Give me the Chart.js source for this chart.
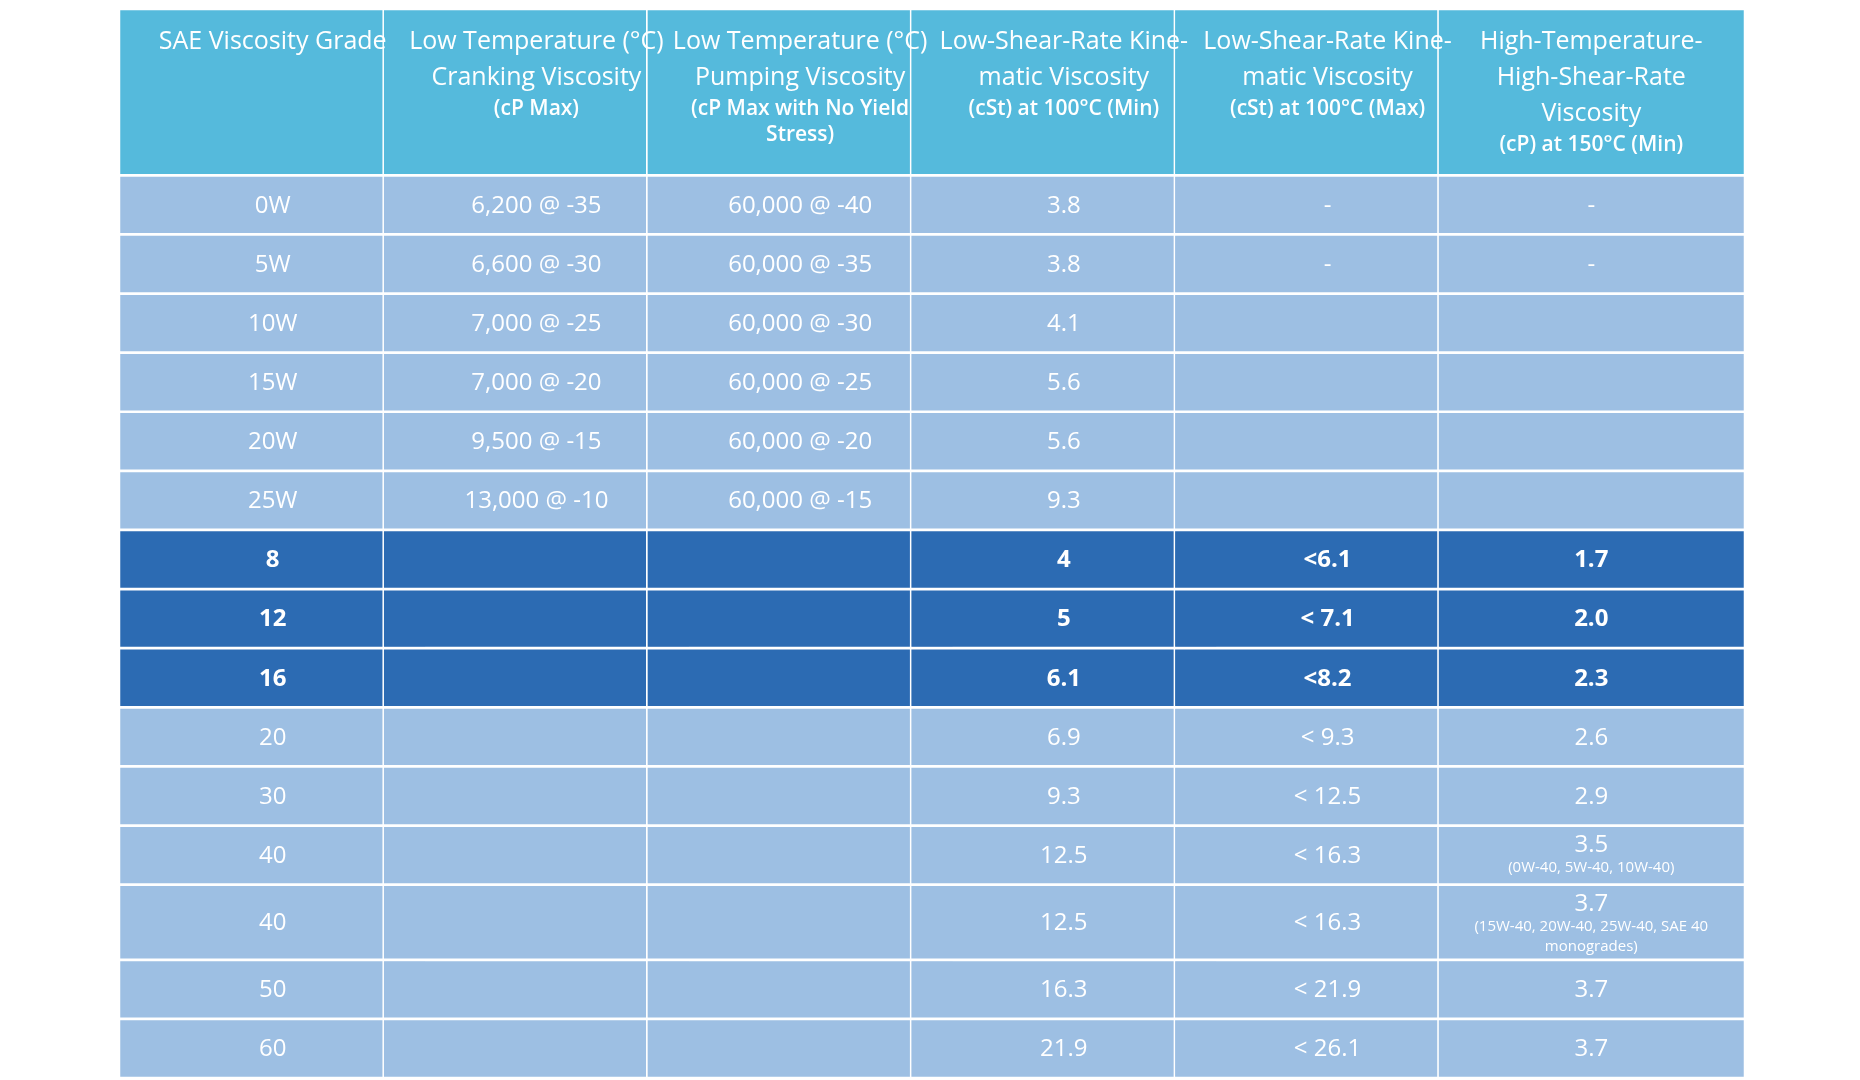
<!DOCTYPE html>
<html>
<head>
<meta charset="utf-8">
<script src="https://cdn.jsdelivr.net/npm/chart.js@4.4.0/dist/chart.umd.min.js"></script>
<style>
  html, body { margin: 0; padding: 0; background: #ffffff; }
  #wrap { width: 1860px; height: 1080px; }
</style>
</head>
<body>
<div id="wrap"><canvas id="table"></canvas></div>
<script>
// table contents
let grades = ['0W', '5W', '10W', '15W', '20W', '25W', '8', '12', '16', '20', '30', '40', '40', '50', '60'];
let cranking = ['6,200 @ -35', '6,600 @ -30', '7,000 @ -25', '7,000 @ -20', '9,500 @ -15', '13,000 @ -10', '', '', '', '', '', '', '', '', ''];
let pumping = ['60,000 @ -40', '60,000 @ -35', '60,000 @ -30', '60,000 @ -25', '60,000 @ -20', '60,000 @ -15', '', '', '', '', '', '', '', '', ''];
let kinMin = ['3.8', '3.8', '4.1', '5.6', '5.6', '9.3', '4', '5', '6.1', '6.9', '9.3', '12.5', '12.5', '16.3', '21.9'];
let kinMax = ['-', '-', '', '', '', '', '<6.1', '< 7.1', '<8.2', '< 9.3', '< 12.5', '< 16.3', '< 16.3', '< 21.9', '< 26.1'];
let hths = ['-', '-', '', '', '', '', '1.7', '2.0', '2.3', '2.6', '2.9', '3.5', '3.7', '3.7', '3.7'];
let hthsNotes = ['', '', '', '', '', '', '', '', '', '', '', '(0W-40, 5W-40, 10W-40)', '(15W-40, 20W-40, 25W-40, SAE 40|monogrades)', '', ''];

let headers = [
  { big: ['SAE Viscosity Grade'], small: [] },
  { big: ['Low Temperature (°C)', 'Cranking Viscosity'], small: ['(cP Max)'] },
  { big: ['Low Temperature (°C)', 'Pumping Viscosity'], small: ['(cP Max with No Yield', 'Stress)'] },
  { big: ['Low-Shear-Rate Kine-', 'matic Viscosity'], small: ['(cSt) at 100°C (Min)'] },
  { big: ['Low-Shear-Rate Kine-', 'matic Viscosity'], small: ['(cSt) at 100°C (Max)'] },
  { big: ['High-Temperature-', 'High-Shear-Rate', 'Viscosity'], small: ['(cP) at 150°C (Min)'] }
];

// layout
const HEADER_H = 166, ROW_H = 59, TALL_H = 75;
const HEAD_COLOR = '#55badc', LIGHT = '#9dbfe3', DARK = '#2c6bb3';
const PAD = { left: 9, right: 5, top: 9, bottom: 2 };
const COL_W = (1860 - PAD.left - PAD.right) / 6;

let columns = [grades, cranking, pumping, kinMin, kinMax, hths];
let rowTops = [];
let y = HEADER_H;
for (let i = 0; i < grades.length; i++) {
  let h = hthsNotes[i].indexOf('|') >= 0 ? TALL_H : ROW_H;
  rowTops.push([y, y + h]);
  y += h;
}
let total = y;

let cells = [], colors = [];
for (let c = 0; c < 6; c++) {
  cells.push({ x: c + 0.5, y: [0, HEADER_H] });
  colors.push(HEAD_COLOR);
  for (let r = 0; r < grades.length; r++) {
    cells.push({ x: c + 0.5, y: rowTops[r] });
    colors.push(r >= 6 && r <= 8 ? DARK : LIGHT);
  }
}

const textPlugin = {
  id: 'cellText',
  afterDatasetsDraw(chart) {
    let ctx = chart.ctx, xs = chart.scales.x, ys = chart.scales.y;
    ctx.save();
    ctx.fillStyle = '#ffffff';
    ctx.textAlign = 'center';
    ctx.textBaseline = 'middle';
    // header
    headers.forEach(function(h, c) {
      let cx = xs.getPixelForValue(c + 0.5);
      let ty = ys.getPixelForValue(0) + 33;
      ctx.font = '500 25px "Open Sans"';
      h.big.forEach(function(line) { ctx.fillText(line, cx, ty); ty += 36; });
      ty -= 5;
      ctx.font = '600 21px "Open Sans"';
      h.small.forEach(function(line) { ctx.fillText(line, cx, ty); ty += 26; });
    });
    // body
    for (let r = 0; r < grades.length; r++) {
      let bold = r >= 6 && r <= 8;
      let top = ys.getPixelForValue(rowTops[r][0]);
      let bot = ys.getPixelForValue(rowTops[r][1]);
      let cy = (top + bot) / 2;
      for (let c = 0; c < 6; c++) {
        let cx = xs.getPixelForValue(c + 0.5);
        let txt = columns[c][r];
        if (!txt) continue;
        let note = c === 5 ? hthsNotes[r] : '';
        ctx.font = (bold ? '700 ' : '400 ') + '24px "Open Sans"';
        if (note) {
          let lines = note.split('|');
          let ty = top + 20;
          ctx.fillText(txt, cx, ty);
          ctx.font = '400 15px "Open Sans"';
          ty += 22;
          lines.forEach(function(l) { ctx.fillText(l, cx, ty); ty += 20; });
        } else {
          ctx.fillText(txt, cx, cy + 1);
        }
      }
    }
    ctx.restore();
  }
};

new Chart(document.getElementById('table'), {
  type: 'bar',
  data: {
    datasets: [{
      data: cells,
      backgroundColor: colors,
      borderColor: '#ffffff',
      borderWidth: 1.7,
      borderSkipped: false,
      barThickness: COL_W,
      grouped: false
    }]
  },
  options: {
    responsive: true,
    maintainAspectRatio: false,
    animation: false,
    layout: { padding: PAD },
    plugins: { legend: { display: false }, tooltip: { enabled: false } },
    scales: {
      x: { type: 'linear', min: 0, max: 6, display: false },
      y: { type: 'linear', min: 0, max: total, reverse: true, display: false }
    }
  },
  plugins: [textPlugin]
});
</script>
</body>
</html>
